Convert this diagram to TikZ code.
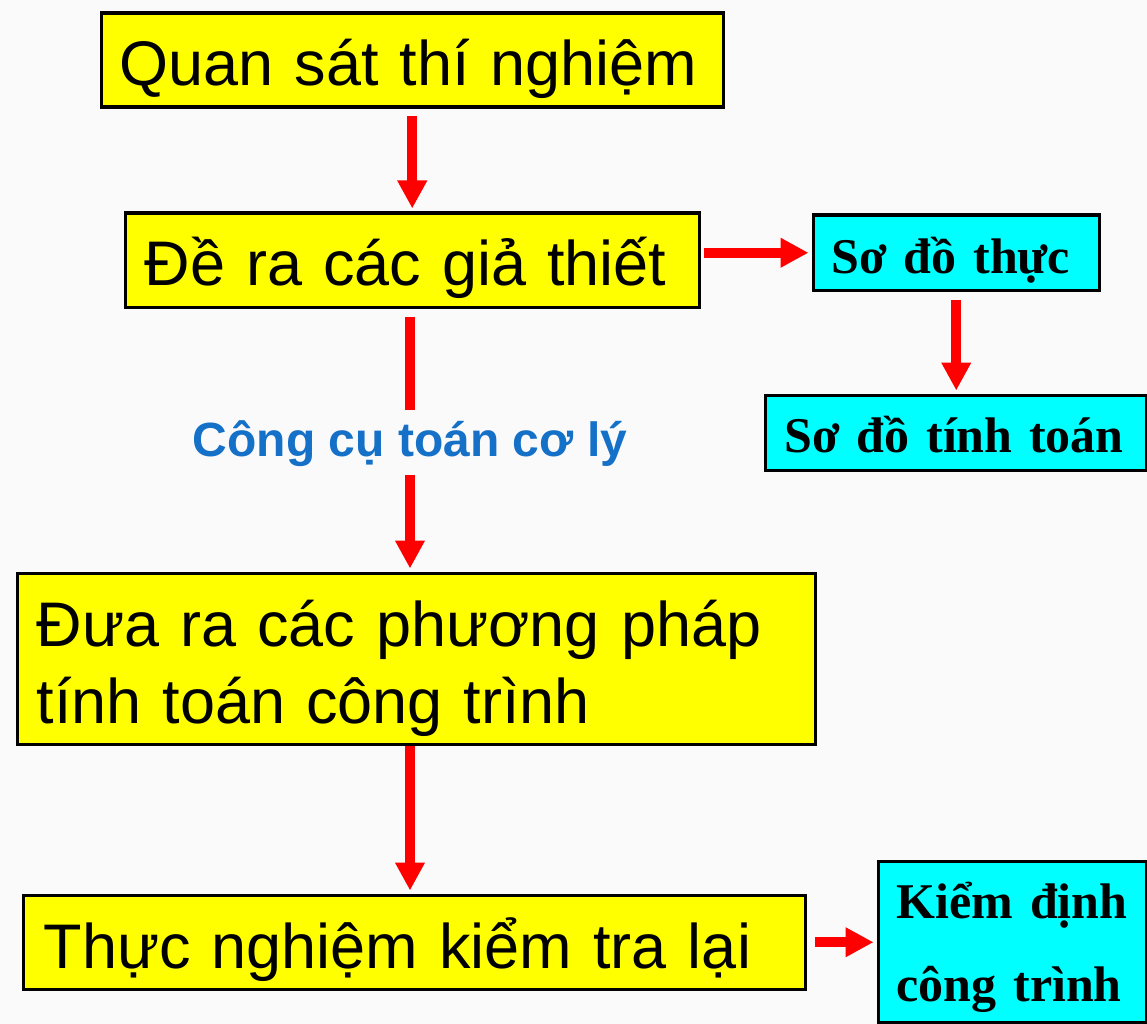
\documentclass[tikz,border=0pt]{standalone}
\usepackage{fontspec}
\setmainfont{Liberation Sans}
\newfontfamily\serifb{Liberation Serif}
\usetikzlibrary{arrows.meta}
\definecolor{bgc}{HTML}{FAFAFA}
\definecolor{ybox}{HTML}{FFFF00}
\definecolor{cbox}{HTML}{00FFFF}
\definecolor{lblue}{HTML}{1570C8}
\definecolor{ared}{HTML}{FF0000}
\begin{document}
\begin{tikzpicture}[x=1pt,y=-1pt,
  box/.style={draw=black, line width=3.5pt, inner ysep=0pt, anchor=north west, align=left},
  yel/.style={box, fill=ybox, font=\fontsize{63}{77}\selectfont},
  cy/.style={box, fill=cbox, font=\serifb\bfseries\fontsize{50}{83}\selectfont},
  arr/.style={draw=ared, line width=10pt, -{Triangle[width=28pt,length=28pt]}, shorten >=3pt},
  lnk/.style={draw=ared, line width=10pt}]
\fill[bgc] (0,0) rectangle (1147,1024);
\useasboundingbox (0,0) rectangle (1147,1024);
% yellow boxes
\node[yel, inner xsep=18.5pt, text width=585pt, text height=72.5pt, text depth=21.5pt] (b1) at (99.5,11.5) {\mbox{Quan sát thí nghiệm}};
\node[yel, inner xsep=19.5pt, text width=535pt, text height=72.5pt, text depth=21.5pt] (b2) at (123.5,211.5) {\mbox{Đề ra các giả thiết}};
\node[yel, inner xsep=19.5pt, text width=759pt, text height=73.5pt, text depth=97.5pt] (b5) at (15.5,571.5) {\mbox{Đưa ra các phương pháp}\\\mbox{tính toán công trình}};
\node[yel, inner xsep=20.5pt, text width=741pt, text height=73.5pt, text depth=20.5pt] (b6) at (21.5,893.5) {\mbox{Thực nghiệm kiểm tra lại}};
% cyan boxes
\node[cy, inner xsep=18.5pt, text width=249pt, text height=58.5pt, text depth=16.5pt] (b3) at (811.5,213.5) {\mbox{Sơ đồ thực}};
\node[cy, inner xsep=19.5pt, text width=342pt, text height=57.5pt, text depth=17.5pt] (b4) at (763.5,393.5) {\mbox{Sơ đồ tính toán}};
\node[cy, inner xsep=18.5pt, text width=231pt, text height=57.5pt, text depth=103.5pt] (b7) at (876.5,859.5) {\mbox{Kiểm định}\\\mbox{công trình}};
% label
\node[anchor=base, inner sep=0pt, text height=46pt, text depth=19pt, text=lblue, font=\bfseries\fontsize{48}{58}\selectfont] (lab) at (410,456) {Công cụ toán cơ lý};
% connectors
\draw[arr] ([yshift=-7pt]b1.south) -- (b2.north);
\draw[arr] ([xshift=2.5pt]b2.east |- b3.west) -- (b3.west);
\draw[arr] ([yshift=-8pt]b3.south) -- (b4.north -| b3.south);
\draw[lnk] ([yshift=-8pt]b2.south -| lab.north) -- (lab.north);
\draw[arr] (lab.south) -- (b5.north -| lab.south);
\draw[arr] (b5.south -| lab.south) -- (b6.north -| lab.south);
\draw[arr] ([xshift=8pt]b6.east) -- (b7.west |- b6.east);
\end{tikzpicture}
\end{document}
